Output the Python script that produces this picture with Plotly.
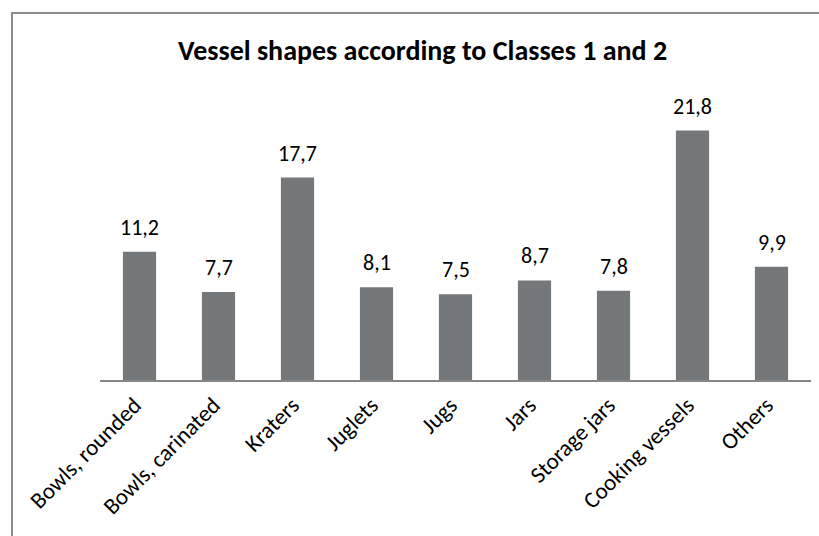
import plotly.graph_objects as go

# Vessel shape categories and their percentages
categories = ["Bowls, rounded", "Bowls, carinated", "Kraters", "Juglets", "Jugs",
              "Jars", "Storage jars", "Cooking vessels", "Others"]
values = [11.2, 7.7, 17.7, 8.1, 7.5, 8.7, 7.8, 21.8, 9.9]
value_labels = [f"{v:.1f}".replace(".", ",") for v in values]

FONT = "Carlito, Calibri, Lato, sans-serif"
BAR_COLOR = "#75787B"

fig = go.Figure(
    go.Bar(
        x=categories,
        y=values,
        marker=dict(color=BAR_COLOR, line=dict(width=0)),
        hoverinfo="skip",
    )
)

# value labels above each bar
for cat, v, lab in zip(categories, values, value_labels):
    fig.add_annotation(
        x=cat, y=v, text=lab, showarrow=False,
        yanchor="bottom", yshift=9,
        font=dict(family=FONT, size=22, color="#000000"),
    )

# outer chart frame
fig.add_shape(
    type="rect", xref="paper", yref="paper",
    x0=-0.1238, x1=1.2, y0=-0.8, y1=1.2832,
    line=dict(color="#8C8C8C", width=2), fillcolor="rgba(0,0,0,0)",
    layer="below",
)

fig.update_layout(
    width=819,
    height=536,
    margin=dict(l=100, r=8, t=94, b=156),
    paper_bgcolor="white",
    plot_bgcolor="white",
    bargap=0.58,
    showlegend=False,
    title=dict(
        text="<b>Vessel shapes according to Classes 1 and 2</b>",
        x=0.516, xanchor="center",
        y=0.907, yanchor="middle",
        font=dict(family=FONT, size=28, color="#000000"),
    ),
    xaxis=dict(
        showline=True, linecolor="#868686", linewidth=1.5,
        showgrid=False, ticks="", tickangle=-45,
        ticklabelshift=-5, ticklabelstandoff=1,
        tickfont=dict(family=FONT, size=23, color="#000000"),
        fixedrange=True,
    ),
    yaxis=dict(
        range=[0, 25], visible=False, showgrid=False, fixedrange=True,
    ),
)

fig.write_html("out.html")
